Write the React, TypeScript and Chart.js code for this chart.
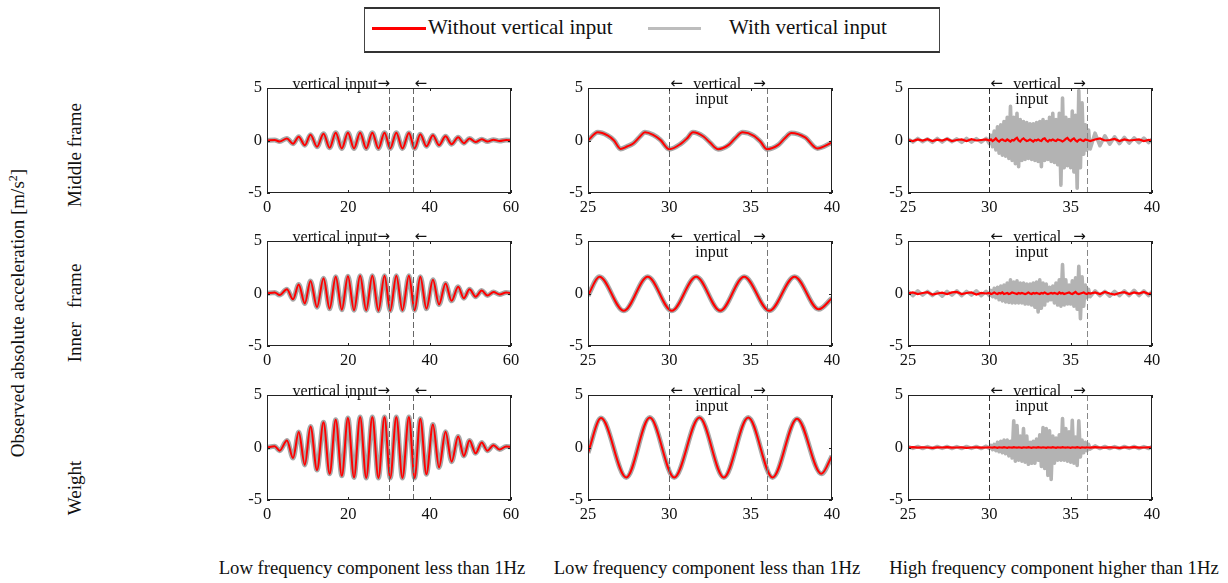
import React, { useEffect, useRef } from "react";
import { Chart, registerables } from "chart.js";

Chart.register(...registerables);

const FONT = '"Liberation Serif", "Times New Roman", Times, serif';
const ARROW_FONT = '15px "DejaVu Sans", sans-serif';

// ---------- Data ----------
// Column 1 (0-60 s): times of extrema
const LF_T = [0, 1.9, 3.1, 4.9, 6.4, 7.8, 9.3, 10.7, 12.3, 13.9, 15.4, 16.9, 18.4, 19.9, 21.4, 22.9, 24.4, 25.9, 27.4, 28.9, 30.3, 31.8, 33.3, 34.9, 36.3, 37.7, 39.2, 40.8, 42.3, 43.9, 45.4, 47.0, 48.4, 49.8, 51.3, 52.8, 54.2, 55.7, 57.2, 58.8, 60];
const MID_LF = [0, 0.05, -0.1, 0.2, -0.3, 0.35, -0.45, 0.55, -0.6, 0.65, -0.7, 0.75, -0.75, 0.75, -0.75, 0.75, -0.75, 0.75, -0.75, 0.75, -0.75, 0.75, -0.75, 0.72, -0.75, 0.6, -0.55, 0.5, -0.45, 0.4, -0.35, 0.3, -0.25, 0.2, -0.15, 0.12, -0.1, 0.08, -0.05, 0.05, 0.0];
const INNER_LF = [0, 0.1, -0.15, 0.4, -0.55, 0.85, -0.95, 1.2, -1.3, 1.45, -1.45, 1.6, -1.55, 1.65, -1.6, 1.7, -1.6, 1.7, -1.65, 1.7, -1.65, 1.7, -1.6, 1.7, -1.6, 1.6, -1.45, 1.3, -1.05, 0.95, -0.7, 0.65, -0.45, 0.4, -0.3, 0.28, -0.2, 0.15, -0.1, 0.1, 0.03];
const WEIGHT_LF = [0, 0.12, -0.3, 0.67, -1.0, 1.47, -1.66, 2.0, -2.15, 2.4, -2.5, 2.65, -2.7, 2.8, -2.85, 2.9, -2.9, 2.9, -2.9, 2.9, -2.9, 2.9, -2.9, 2.9, -2.9, 2.75, -2.55, 2.2, -1.9, 1.5, -1.35, 1.05, -0.8, 0.67, -0.55, 0.48, -0.3, 0.22, -0.2, 0.1, 0.05];

// Column 2 (25-40 s) low-frequency close-ups
const MID_ZOOM_T = [25, 25.6, 26.2, 26.6, 27.0, 27.4, 27.8, 28.2, 28.5, 29.0, 29.45, 30.0, 30.7, 31.1, 31.45, 32.1, 32.5, 33.0, 33.65, 34.05, 34.5, 35.2, 35.6, 36.0, 36.7, 37.1, 37.5, 38.35, 39.1, 40];
const MID_ZOOM = [0, 0.78, 0.48, 0.0, -0.8, -0.57, -0.26, 0.38, 0.78, 0.54, 0.06, -0.83, -0.32, 0.22, 0.78, 0.38, -0.2, -0.83, -0.42, 0.22, 0.78, 0.45, -0.1, -0.83, -0.42, 0.22, 0.72, 0.3, -0.75, -0.19];
const INNER_ZOOM_T = [25, 25.7, 27.2, 28.67, 30.15, 31.65, 33.13, 34.6, 36.15, 37.7, 39.18, 40];
const INNER_ZOOM = [-0.2, 1.6, -1.65, 1.6, -1.65, 1.6, -1.65, 1.6, -1.65, 1.6, -1.5, -0.45];
const WEIGHT_ZOOM_T = [25, 25.8, 27.35, 28.8, 30.3, 31.85, 33.35, 34.85, 36.35, 37.85, 39.35, 40];
const WEIGHT_ZOOM = [-0.5, 2.8, -2.85, 2.85, -2.85, 2.85, -2.85, 2.85, -2.85, 2.75, -2.5, -0.8];

// Column 3 (25-40 s) high-frequency component
const HF_T = [
  25.0, 25.3, 25.6, 25.9, 26.2, 26.5, 26.8, 27.1, 27.4, 27.7, 28.0, 28.3, 28.6, 28.9, 29.2, 29.5, 29.8,
  30.0, 30.1, 30.2, 30.3, 30.4, 30.5, 30.6, 30.7, 30.8, 30.9,
  31.0, 31.1, 31.2, 31.3, 31.4, 31.5, 31.6, 31.7, 31.8, 31.9,
  32.0, 32.1, 32.2, 32.3, 32.4, 32.5, 32.6, 32.7, 32.8, 32.9,
  33.0, 33.1, 33.2, 33.3, 33.4, 33.5, 33.6, 33.7, 33.8, 33.9,
  34.0, 34.1, 34.2, 34.3, 34.4, 34.5, 34.6, 34.7, 34.8, 34.9,
  35.0, 35.1, 35.2, 35.3, 35.4, 35.5, 35.6, 35.7, 35.8, 35.9,
  36.0, 36.1, 36.2,
  36.5, 36.8, 37.1, 37.4, 37.7, 38.0, 38.3, 38.6, 38.9, 39.2, 39.5, 39.8, 40.0,
];
const MID_HF_GRAY = [
  0.15, -0.15, 0.2, -0.12, 0.15, -0.18, 0.2, -0.15, 0.18, -0.12, 0.15, -0.18, 0.2, -0.15, 0.18, -0.15, 0.2,
  -0.3, 0.5, -0.6, 0.9, -0.9, 1.3, -1.2, 1.5, -1.4, 1.8,
  -1.5, 2.2, -1.7, 3.25, -1.9, 2.2, -2.2, 2.6, -2.5, 2.0,
  -1.9, 1.8, -1.8, 1.7, -1.7, 1.6, -1.8, 1.6, -1.9, 1.7,
  -2.0, 1.8, -2.5, 2.0, -1.9, 1.8, -1.8, 2.2, -2.0, 2.6,
  -2.1, 2.0, -2.3, 2.6, -4.25, 4.05, -2.6, 2.2, -2.4, 2.0,
  -2.6, 2.8, -3.0, 2.4, -4.55, 4.75, -2.6, 3.6, -1.3, 1.5,
  -0.9, 1.0, -0.8,
  0.7, -0.5, 0.45, -0.35, 0.35, -0.3, 0.3, -0.25, 0.25, -0.2, 0.22, -0.2, 0.15,
];
const MID_HF_RED = [
  0.05, -0.05, 0.1, 0.0, 0.12, -0.05, 0.08, 0.0, 0.15, -0.05, 0.05, 0.1, -0.05, 0.12, 0.0, 0.05, 0.1,
  0.0, 0.1, -0.05, 0.05, 0.2, 0.0, -0.1, 0.05, 0.1, 0.0,
  -0.05, 0.1, 0.0, -0.1, 0.05, 0.0, 0.15, 0.25, 0.0, -0.1,
  0.1, 0.2, 0.05, -0.05, 0.0, 0.1, 0.0, -0.1, 0.05, 0.0,
  0.1, 0.0, -0.05, 0.15, 0.2, 0.0, -0.1, 0.05, 0.0, 0.1,
  0.0, -0.05, 0.1, 0.05, 0.0, -0.1, 0.0, 0.15, 0.25, 0.05,
  -0.05, 0.1, 0.2, 0.0, -0.1, 0.05, 0.1, 0.0, -0.05, 0.1,
  0.05, 0.0, -0.05,
  0.1, 0.2, 0.0, 0.05, 0.15, -0.05, 0.1, 0.0, 0.05, 0.1, -0.05, 0.05, 0.0,
];
const INNER_HF_GRAY = [
  0.2, -0.2, 0.25, -0.15, 0.2, -0.2, 0.15, -0.25, 0.2, -0.15, 0.25, -0.2, 0.2, -0.15, 0.25, -0.2, 0.2,
  -0.2, 0.3, -0.3, 0.5, -0.4, 0.6, -0.6, 0.7, -0.7, 0.8,
  -0.8, 1.0, -0.85, 1.3, -0.9, 1.1, -0.9, 1.2, -0.9, 1.0,
  -0.9, 1.0, -1.0, 0.9, -1.0, 0.9, -1.1, 1.0, -1.3, 1.1,
  -1.75, 1.3, -1.4, 1.0, -1.1, 0.9, -0.7, 0.6, -0.6, 0.7,
  -0.9, 1.0, -1.1, 1.3, -1.2, 2.75, -1.1, 1.3, -1.0, 0.8,
  -1.0, 1.2, -1.2, 1.5, -1.5, 2.6, -2.4, 1.6, -1.2, 0.8,
  -0.4, 0.4, -0.3,
  0.25, -0.2, 0.2, -0.25, 0.2, -0.2, 0.25, -0.2, 0.3, -0.2, 0.25, -0.2, 0.2,
];
const INNER_HF_RED = [
  0.0, 0.1, -0.05, 0.05, 0.12, -0.1, 0.0, 0.08, -0.05, 0.1, 0.15, -0.05, 0.05, 0.1, -0.1, 0.05, 0.0,
  0.05, -0.05, 0.0, 0.1, 0.0, -0.05, 0.05, 0.0, 0.1, -0.05,
  0.0, 0.05, -0.05, 0.0, 0.1, 0.05, 0.0, -0.05, 0.05, 0.0,
  0.05, 0.0, -0.05, 0.0, 0.1, 0.0, -0.05, 0.05, 0.0, 0.05,
  0.0, -0.05, 0.05, 0.0, 0.1, 0.0, -0.05, 0.0, 0.05, 0.0,
  0.05, 0.0, -0.05, 0.1, 0.0, 0.05, -0.05, 0.0, 0.05, 0.1,
  0.0, -0.05, 0.05, 0.15, 0.0, -0.05, 0.0, 0.05, 0.1, 0.0,
  -0.05, 0.05, 0.0,
  0.1, -0.05, 0.15, 0.0, -0.1, 0.05, 0.12, -0.05, 0.1, 0.0, 0.15, -0.05, 0.05,
];
const WEIGHT_HF_GRAY = [
  0.1, -0.08, 0.1, -0.1, 0.08, -0.1, 0.1, -0.08, 0.1, -0.1, 0.08, -0.1, 0.1, -0.08, 0.1, -0.1, 0.12,
  -0.1, 0.2, -0.2, 0.3, -0.3, 0.5, -0.4, 0.6, -0.5, 0.7,
  -0.6, 0.7, -0.8, 0.6, -1.0, 2.55, -1.3, 2.1, -1.2, 1.1,
  -1.3, 1.8, -1.4, 1.1, -1.6, 0.5, -1.5, 0.6, -1.5, 0.8,
  -1.2, 1.2, -1.8, 1.9, -2.0, 1.8, -2.65, 1.6, -3.05, 1.1,
  -1.5, 0.9, -1.2, 1.2, -1.2, 2.75, -1.2, 1.8, -1.3, 1.5,
  -1.4, 2.6, -1.5, 1.0, -1.7, 2.55, -0.9, 0.7, -0.5, 0.5,
  -0.3, 0.3, -0.15,
  0.15, -0.1, 0.1, -0.1, 0.08, -0.1, 0.1, -0.08, 0.1, -0.1, 0.08, -0.1, 0.1,
];
const WEIGHT_HF_RED = [
  0.0, 0.03, -0.02, 0.02, 0.0, -0.03, 0.02, 0.0, 0.03, -0.02, 0.0, 0.02, -0.03, 0.0, 0.02, -0.02, 0.0,
  0.02, 0.0, -0.02, 0.03, 0.0, -0.03, 0.02, 0.0, -0.02, 0.03,
  0.0, -0.03, 0.02, 0.0, -0.02, 0.03, 0.0, -0.02, 0.02, 0.0,
  -0.03, 0.02, 0.0, -0.02, 0.03, 0.0, -0.03, 0.02, 0.0, -0.02,
  0.03, 0.0, -0.02, 0.02, 0.0, -0.03, 0.02, 0.0, -0.02, 0.03,
  0.0, -0.03, 0.02, 0.0, -0.02, 0.03, 0.0, -0.02, 0.02, 0.0,
  -0.03, 0.02, 0.0, -0.02, 0.03, 0.0, -0.03, 0.02, 0.0, -0.02,
  0.02, 0.0, -0.02,
  0.03, 0.0, -0.02, 0.02, 0.0, -0.03, 0.02, 0.0, 0.03, -0.02, 0.0, 0.02, 0.0,
];

const VERTICAL_INPUT = [30, 36];
const Y_TICKS_STEP = 5;
const SERIES_NAMES = ["Without vertical input", "With vertical input"];
const ROW_NAMES = ["Middle frame", "Inner   frame", "Weight"];
const COLUMN_NAMES = [
  "Low frequency component less than 1Hz",
  "Low frequency component less than 1Hz",
  "High frequency component higher than 1Hz",
];

// ---------- Layout ----------
const COL_LEFT = [267, 588, 908];
const ROW_TOP = [88, 241, 395];
const AREA_W = 244;
const AREA_H = 105;
const PAD_L = 45;
const PAD_T = 30;
const PAD_R = 22;
const PAD_B = 30;

type Panel = {
  row: number;
  col: number;
  t: number[];
  red: number[];
  gray: number[];
  xmin: number;
  xmax: number;
  step: number;
  hf: boolean;
};

const PANELS: Panel[] = [
  { row: 0, col: 0, t: LF_T, red: MID_LF, gray: MID_LF, xmin: 0, xmax: 60, step: 20, hf: false },
  { row: 0, col: 1, t: MID_ZOOM_T, red: MID_ZOOM, gray: MID_ZOOM, xmin: 25, xmax: 40, step: 5, hf: false },
  { row: 0, col: 2, t: HF_T, red: MID_HF_RED, gray: MID_HF_GRAY, xmin: 25, xmax: 40, step: 5, hf: true },
  { row: 1, col: 0, t: LF_T, red: INNER_LF, gray: INNER_LF, xmin: 0, xmax: 60, step: 20, hf: false },
  { row: 1, col: 1, t: INNER_ZOOM_T, red: INNER_ZOOM, gray: INNER_ZOOM, xmin: 25, xmax: 40, step: 5, hf: false },
  { row: 1, col: 2, t: HF_T, red: INNER_HF_RED, gray: INNER_HF_GRAY, xmin: 25, xmax: 40, step: 5, hf: true },
  { row: 2, col: 0, t: LF_T, red: WEIGHT_LF, gray: WEIGHT_LF, xmin: 0, xmax: 60, step: 20, hf: false },
  { row: 2, col: 1, t: WEIGHT_ZOOM_T, red: WEIGHT_ZOOM, gray: WEIGHT_ZOOM, xmin: 25, xmax: 40, step: 5, hf: false },
  { row: 2, col: 2, t: HF_T, red: WEIGHT_HF_RED, gray: WEIGHT_HF_GRAY, xmin: 25, xmax: 40, step: 5, hf: true },
];

const DASH_COLORS = [
  ["#666", "#666"],
  ["#666", "#777"],
  ["#333", "#888"],
];

function framePlugin(p: Panel) {
  return {
    id: "frame",
    afterDatasetsDraw(chart: any) {
      const { ctx, chartArea, scales } = chart;
      const { top, bottom } = chartArea;
      ctx.save();
      ctx.setLineDash([6, 3]);
      ctx.lineWidth = 1;
      VERTICAL_INPUT.forEach((v, i) => {
        const px = Math.round(scales.x.getPixelForValue(v)) + 0.5;
        ctx.strokeStyle = DASH_COLORS[p.col][i];
        ctx.beginPath();
        ctx.moveTo(px, top);
        ctx.lineTo(px, bottom);
        ctx.stroke();
      });
      ctx.restore();
    },
    afterDraw(chart: any) {
      const { ctx, chartArea, scales } = chart;
      const { left, right, top, bottom } = chartArea;
      ctx.save();
      ctx.strokeStyle = "#222";
      ctx.lineWidth = 1;
      ctx.setLineDash([]);
      ctx.strokeRect(left + 0.5, top + 0.5, right - left - 1, bottom - top - 1);
      const TL = 3;
      ctx.beginPath();
      scales.x.ticks.forEach((tk: any) => {
        const px = Math.round(scales.x.getPixelForValue(tk.value)) + 0.5;
        ctx.moveTo(px, top);
        ctx.lineTo(px, top + TL);
        ctx.moveTo(px, bottom);
        ctx.lineTo(px, bottom - TL);
      });
      scales.y.ticks.forEach((tk: any) => {
        const py = Math.round(scales.y.getPixelForValue(tk.value)) + 0.5;
        ctx.moveTo(left, py);
        ctx.lineTo(left + TL, py);
        ctx.moveTo(right, py);
        ctx.lineTo(right - TL, py);
      });
      ctx.stroke();

      const x30 = scales.x.getPixelForValue(VERTICAL_INPUT[0]);
      const x36 = scales.x.getPixelForValue(VERTICAL_INPUT[1]);
      const base = top + 1;
      ctx.fillStyle = "#111";
      ctx.textBaseline = "alphabetic";
      if (p.col === 0) {
        ctx.font = ARROW_FONT;
        const aw = ctx.measureText("\u2192").width;
        ctx.textAlign = "right";
        ctx.fillText("\u2192", x30 + 1, base - 1);
        ctx.textAlign = "left";
        ctx.fillText("\u2190", x36 + 1, base - 1);
        ctx.font = `16px ${FONT}`;
        ctx.textAlign = "right";
        ctx.fillText("vertical input", x30 + 1 - aw, base);
      } else {
        ctx.font = ARROW_FONT;
        ctx.textAlign = "left";
        ctx.fillText("\u2190", x30 + 1, base - 1);
        ctx.textAlign = "right";
        ctx.fillText("\u2192", x36 - 1, base - 1);
        ctx.font = `16px ${FONT}`;
        ctx.textAlign = "left";
        ctx.fillText("vertical", x30 + 24, base);
        ctx.fillText("input", x30 + 26, top + 16);
      }
      ctx.restore();
    },
  };
}

function PanelChart({ p }: { p: Panel }) {
  const ref = useRef<HTMLCanvasElement>(null);
  const W = PAD_L + AREA_W + PAD_R;
  const H = PAD_T + AREA_H + PAD_B;
  useEffect(() => {
    const tickFont = { family: FONT, size: 16.5 };
    const chart = new Chart(ref.current as HTMLCanvasElement, {
      type: "line",
      data: {
        datasets: [
          {
            label: SERIES_NAMES[0],
            data: p.t.map((x, i) => ({ x, y: p.red[i] })),
            borderColor: "#ff0000",
            borderWidth: p.hf ? 2.2 : 2,
            pointRadius: 0,
            tension: 0,
            cubicInterpolationMode: p.hf ? "default" : "monotone",
            fill: false,
          },
          {
            label: SERIES_NAMES[1],
            data: p.t.map((x, i) => ({ x, y: p.gray[i] })),
            borderColor: p.hf ? "#b3b3b3" : "#a8a8a8",
            borderWidth: p.hf ? 3.6 : 5,
            borderJoinStyle: "round",
            pointRadius: 0,
            tension: 0,
            cubicInterpolationMode: p.hf ? "default" : "monotone",
            fill: false,
          },
        ],
      },
      options: {
        animation: false,
        responsive: false,
        devicePixelRatio: 1,
        events: [],
        layout: { padding: { left: 0, top: PAD_T, right: PAD_R, bottom: 0 } },
        plugins: { legend: { display: false }, tooltip: { enabled: false } },
        scales: {
          x: {
            type: "linear",
            min: p.xmin,
            max: p.xmax,
            ticks: { stepSize: p.step, font: tickFont, color: "#111", padding: 5, maxRotation: 0, autoSkip: false },
            grid: { display: false, drawTicks: false },
            border: { display: false },
            afterFit: (s: any) => {
              s.height = PAD_B;
              s.paddingLeft = 0;
              s.paddingRight = 0;
            },
          },
          y: {
            type: "linear",
            min: -5,
            max: 5,
            ticks: { stepSize: Y_TICKS_STEP, font: tickFont, color: "#111", padding: 5 },
            grid: { display: false, drawTicks: false },
            border: { display: false },
            afterFit: (s: any) => {
              s.width = PAD_L;
              s.paddingTop = 0;
              s.paddingBottom = 0;
            },
          },
        },
      } as any,
      plugins: [framePlugin(p)],
    });
    return () => chart.destroy();
  }, []);
  return (
    <canvas
      ref={ref}
      width={W}
      height={H}
      style={{
        position: "absolute",
        left: COL_LEFT[p.col] - PAD_L,
        top: ROW_TOP[p.row] - PAD_T,
        width: W,
        height: H,
      }}
    />
  );
}

const ROW_LABEL_Y = [155, 313, 488];
const COL_LABEL_X = [372, 707, 1054];

export default function App() {
  const rot = (x: number, y: number): React.CSSProperties => ({
    position: "absolute",
    left: x,
    top: y,
    transform: "translate(-50%, -50%) rotate(-90deg)",
    whiteSpace: "pre",
    fontSize: 19,
    lineHeight: "22px",
    color: "#111",
  });
  return (
    <div
      style={{
        position: "absolute",
        left: 0,
        top: 0,
        width: 1228,
        height: 583,
        background: "#fff",
        fontFamily: FONT,
        overflow: "hidden",
      }}
    >
      {/* Legend */}
      <div
        style={{
          position: "absolute",
          left: 364,
          top: 7,
          width: 574,
          height: 42,
          borderTop: "2px solid #333",
          borderBottom: "2px solid #333",
          borderLeft: "1.5px solid #444",
          borderRight: "1.5px solid #444",
        }}
      />
      <div style={{ position: "absolute", left: 372, top: 27, width: 54, height: 3, background: "#ff0000" }} />
      <div style={{ position: "absolute", left: 428, top: 14, fontSize: 21, lineHeight: "26px", whiteSpace: "nowrap", color: "#111" }}>
        {SERIES_NAMES[0]}
      </div>
      <div style={{ position: "absolute", left: 648, top: 27, width: 53, height: 3, background: "#bdbdbd" }} />
      <div style={{ position: "absolute", left: 729, top: 14, fontSize: 21, lineHeight: "26px", whiteSpace: "nowrap", color: "#111" }}>
        {SERIES_NAMES[1]}
      </div>

      {/* Y axis title and row labels */}
      <div style={rot(18, 313)}>
        Observed absolute acceleration [m/s<sup style={{ fontSize: 12, lineHeight: 0 }}>2</sup>]
      </div>
      {ROW_NAMES.map((n, i) => (
        <div key={n} style={rot(75, ROW_LABEL_Y[i])}>
          {n}
        </div>
      ))}

      {/* Column labels */}
      {COLUMN_NAMES.map((n, i) => (
        <div
          key={i}
          style={{
            position: "absolute",
            left: COL_LABEL_X[i],
            top: 568,
            transform: "translate(-50%, -50%)",
            whiteSpace: "nowrap",
            fontSize: 18.7,
            lineHeight: "22px",
            color: "#111",
          }}
        >
          {n}
        </div>
      ))}

      {PANELS.map((p, i) => (
        <PanelChart key={i} p={p} />
      ))}
    </div>
  );
}
